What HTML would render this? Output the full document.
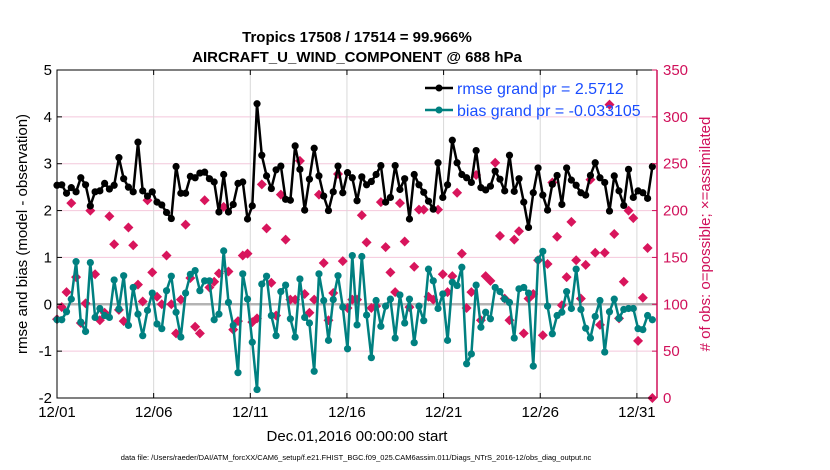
<!DOCTYPE html>
<html><head><meta charset="utf-8"><style>
html,body{margin:0;padding:0;background:#fff;}
svg{display:block;font-family:"Liberation Sans",Arial,sans-serif;}
</style></head><body>
<svg id="chart" width="830" height="470" viewBox="0 0 830 470">
<text x="357" y="42" text-anchor="middle" font-size="15" font-weight="bold">Tropics 17508 / 17514 = 99.966%</text>
<text x="357" y="62" text-anchor="middle" font-size="15" font-weight="bold">AIRCRAFT_U_WIND_COMPONENT @ 688 hPa</text>
<g id="grid"></g>
<g id="marks"></g>
<g id="axes"></g>
<text transform="translate(27,234) rotate(-90)" text-anchor="middle" font-size="15">rmse and bias (model - observation)</text>
<text transform="translate(710,234) rotate(-90)" text-anchor="middle" font-size="15" fill="#d0105a"># of obs: o=possible; ×=assimilated</text>
<text x="357" y="441" text-anchor="middle" font-size="15">Dec.01,2016 00:00:00 start</text>
<text x="356" y="460" text-anchor="middle" font-size="7.5">data file: /Users/raeder/DAI/ATM_forcXX/CAM6_setup/f.e21.FHIST_BGC.f09_025.CAM6assim.011/Diags_NTrS_2016-12/obs_diag_output.nc</text>
<g id="legend">
<line x1="425" y1="88" x2="453" y2="88" stroke="#000" stroke-width="2.5"/>
<circle cx="439" cy="88" r="3.5" fill="#000"/>
<text x="457" y="94" font-size="16" fill="#1a4dff">rmse grand pr = 2.5712</text>
<line x1="425" y1="110" x2="453" y2="110" stroke="#008080" stroke-width="2.5"/>
<circle cx="439" cy="110" r="3.5" fill="#008080"/>
<text x="457" y="116" font-size="16" fill="#1a4dff">bias grand pr = -0.033105</text>
</g>
</svg>
<script>
const rmse=[2.54,2.55,2.37,2.49,2.40,2.70,2.55,2.10,2.40,2.42,2.58,2.46,2.54,3.13,2.68,2.50,2.40,3.46,2.42,2.31,2.40,2.18,2.12,1.96,1.83,2.94,2.37,2.37,2.73,2.70,2.80,
2.82,2.68,2.61,1.97,2.77,1.97,2.13,2.58,2.61,1.82,2.10,4.28,3.18,2.74,2.47,2.87,2.95,2.24,2.22,3.38,2.88,2.01,2.67,3.33,2.74,2.31,2.00,2.40,2.95,2.38,2.81,2.70,
2.21,2.72,2.55,2.62,2.77,2.96,2.18,2.28,2.96,2.45,2.68,1.82,2.77,2.55,2.39,2.20,2.03,3.02,2.28,2.55,3.50,3.02,2.77,2.70,2.60,3.28,2.49,2.44,2.52,2.84,2.67,2.42,
3.18,2.41,2.68,2.18,1.64,2.38,2.91,2.33,2.01,2.56,2.75,2.13,2.91,2.65,2.54,2.38,2.33,2.75,3.02,2.70,2.60,1.99,2.74,2.42,2.11,2.88,2.28,2.42,2.38,2.26,2.94];
const bias=[-0.33,-0.33,-0.16,0.11,0.91,-0.38,-0.58,0.89,-0.28,-0.09,-0.24,-0.28,0.52,-0.10,0.61,-0.45,0.36,-0.21,-0.67,-0.13,0.24,-0.42,-0.52,0.29,0.60,-0.17,-0.70,0.24,0.64,0.72,0.29,
0.50,0.50,-0.33,-0.21,1.14,0.04,-0.45,-1.46,0.65,0.11,-0.81,-1.82,0.43,0.60,-0.24,-0.67,0.27,0.41,-0.31,-0.70,0.54,-0.28,-0.40,-1.43,0.65,0.08,-0.77,0.10,0.61,-0.06,-0.95,1.04,
-0.44,1.02,-0.23,-1.14,0.08,-0.47,-0.04,0.11,-0.72,0.20,-0.40,0.11,-0.82,-0.04,-0.35,0.75,0.50,-0.09,0.22,-0.77,0.47,0.40,0.79,-1.27,-1.06,0.41,-0.49,-0.17,-0.31,0.36,0.27,0.11,
0.04,-0.72,0.33,0.36,0.24,-1.32,0.95,1.13,-0.04,-0.63,-0.24,-0.17,0.27,-0.09,0.75,-0.11,-0.51,-0.72,-0.26,0.08,-1.02,-0.16,0.11,-0.30,-0.11,-0.09,-0.09,-0.52,-0.54,-0.24,-0.33];
const nobs=[84,97,113,208,129,80,101,200,132,83,91,194,164,94,82,182,163,121,103,211,134,108,100,152,100,69,105,185,128,76,69,
211,118,124,133,204,135,73,82,152,154,81,85,228,181,123,88,217,169,105,105,253,111,91,105,217,144,83,112,239,146,96,105,
105,195,166,96,98,209,161,134,113,208,167,97,140,201,201,108,105,201,132,113,130,219,154,96,113,238,83,130,125,251,173,106,
83,169,178,69,106,111,147,67,143,230,172,99,129,188,147,106,142,233,155,78,155,313,175,85,124,200,192,61,107,160,0];
const leftTicks=[-2,-1,0,1,2,3,4,5];
const rightTicks=[0,50,100,150,200,250,300,350];
const dateTicks=[0,5,10,15,20,25,30];
const dateLabels=["12/01","12/06","12/11","12/16","12/21","12/26","12/31"];
const timeStep=0.2464; // days between analysis bins

const NS="http://www.w3.org/2000/svg";
const X0=57,X1=657,Y0=70,Y1=398;
const xS=d=>X0+d*(X1-X0)/31.04;
const yL=v=>Y1-(v+2)*(Y1-Y0)/7;
const yR=v=>Y1-v*(Y1-Y0)/350;
function mk(p,tag,attrs){const e=document.createElementNS(NS,tag);for(const k in attrs)e.setAttribute(k,attrs[k]);p.appendChild(e);return e;}
const grid=document.getElementById('grid'),marks=document.getElementById('marks'),axes=document.getElementById('axes');
leftTicks.forEach(v=>{if(v>-2&&v<5&&v!==0){const l=mk(grid,'line',{x1:X0,x2:X1,y1:yL(v),y2:yL(v),stroke:'#f4c8dc','stroke-width':1});

}});
dateTicks.forEach(d=>{if(d>0){const l=mk(grid,'line',{x1:xS(d),x2:xS(d),y1:Y0,y2:Y1,stroke:'#d8d8d8','stroke-width':1});

}});
const zl=mk(grid,'line',{x1:X0,x2:X1,y1:yL(0),y2:yL(0),stroke:'#b4b4b4','stroke-width':2.5});


// diamonds
nobs.forEach((v,i)=>{const x=xS(i*timeStep),y=yR(v);
const p=mk(marks,'polygon',{points:`${x},${y-5} ${x+5},${y} ${x},${y+5} ${x-5},${y}`,fill:'#d8155c'});

});
function series(arr,color,name){
const pts=arr.map((v,i)=>`${xS(i*timeStep).toFixed(1)},${yL(v).toFixed(1)}`).join(' ');
const pl=mk(marks,'polyline',{points:pts,fill:'none',stroke:color,'stroke-width':2.5,'stroke-linejoin':'round'});


arr.forEach((v,i)=>{const c=mk(marks,'circle',{cx:xS(i*timeStep),cy:yL(v),r:3.6,fill:color});

});}
series(bias,'#008080','bias');
series(rmse,'#000000','rmse');
// axes
const box=mk(axes,'path',{d:`M${X1},${Y0} L${X0},${Y0} L${X0},${Y1} L${X1},${Y1}`,fill:'none',stroke:'#000','stroke-width':1});


const ra=mk(axes,'line',{x1:X1,x2:X1,y1:Y0,y2:Y1,stroke:'#d0105a','stroke-width':1.5});


leftTicks.forEach(v=>{const y=yL(v);mk(axes,'line',{x1:X0,x2:X0+5,y1:y,y2:y,stroke:'#000'});
const t=mk(axes,'text',{x:X0-5,y:y+5,'text-anchor':'end','font-size':15});t.textContent=v;

});
rightTicks.forEach(v=>{const y=yR(v);mk(axes,'line',{x1:X1-5,x2:X1,y1:y,y2:y,stroke:'#d0105a'});
const t=mk(axes,'text',{x:X1+6,y:y+5,'font-size':15,fill:'#d0105a'});t.textContent=v;

});
dateTicks.forEach((d,i)=>{const x=xS(d);mk(axes,'line',{x1:x,x2:x,y1:Y1,y2:Y1-5,stroke:'#000'});mk(axes,'line',{x1:x,x2:x,y1:Y0,y2:Y0+5,stroke:'#000'});
const t=mk(axes,'text',{x:x,y:Y1+19,'text-anchor':'middle','font-size':15});t.textContent=dateLabels[i];

});
</script>
</body></html>
